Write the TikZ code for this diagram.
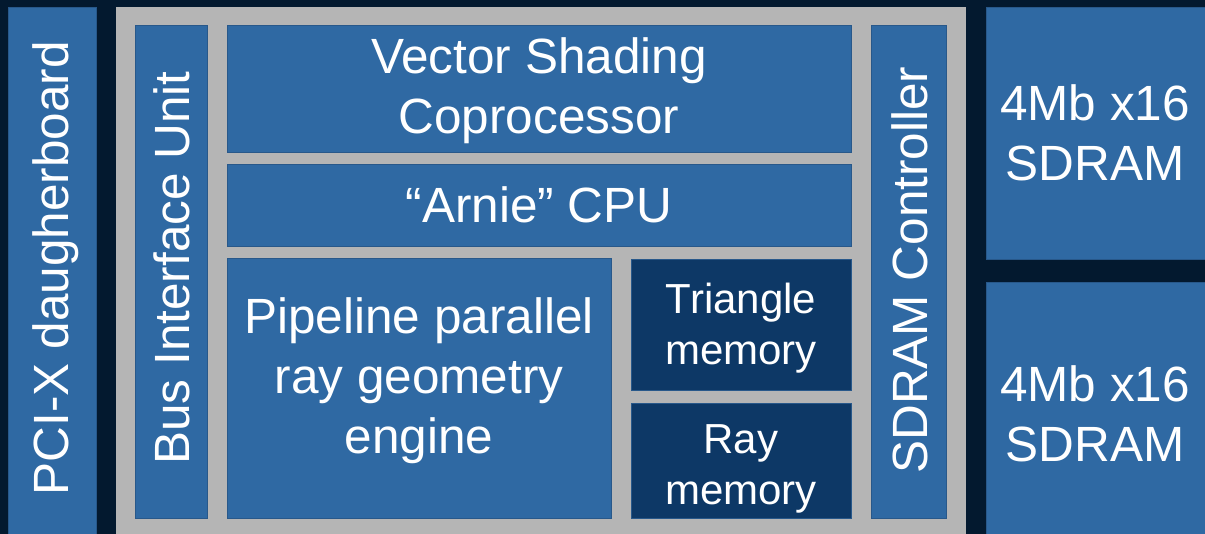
\documentclass[tikz,border=0pt]{standalone}
\usepackage{fontspec}
\setmainfont{Liberation Sans}
\definecolor{bgnavy}{HTML}{03192F}
\definecolor{midblue}{HTML}{2F69A3}
\definecolor{darkblue}{HTML}{0D3866}
\definecolor{edgeblue}{HTML}{28588A}
\definecolor{framegray}{HTML}{B5B5B5}
\begin{document}
\begin{tikzpicture}[x=1pt,y=-1pt,
  blk/.style={fill=midblue, draw=edgeblue, line width=0.8pt, inner sep=0pt},
  memblk/.style={blk, fill=darkblue},
  txt/.style={inner sep=0pt, text=white, align=center, font=\fontsize{49.5}{60}\selectfont},
  memtxt/.style={txt, font=\fontsize{42}{51}\selectfont}]
\fill[bgnavy] (0,0) rectangle (1205,534);
\useasboundingbox (0,0) rectangle (1205,534);
% outer gray frame
\fill[framegray] (116,7) rectangle (966,545);
% blocks
\node[blk, minimum width=88, minimum height=540] (pci) at (52,277) {};
\node[blk, minimum width=72, minimum height=493] (bus) at (171,271.5) {};
\node[blk, minimum width=624, minimum height=127] (vsc) at (539,88.5) {};
\node[blk, minimum width=624, minimum height=82] (cpu) at (539,205) {};
\node[blk, minimum width=384, minimum height=260] (pipe) at (419,388) {};
\node[memblk, minimum width=220, minimum height=131] (tri) at (741,324.5) {};
\node[memblk, minimum width=220, minimum height=115] (ray) at (741,460.5) {};
\node[blk, minimum width=75, minimum height=493] (ctrl) at (908.5,271.5) {};
\node[blk, minimum width=229, minimum height=252] (sd1) at (1100.5,133) {};
\node[blk, minimum width=229, minimum height=263] (sd2) at (1100.5,413.5) {};
% texts
\node[txt, rotate=90] (pci-t) at (56,268) {PCI-X daugherboard};
\node[txt, rotate=90] (bus-t) at (172,268) {Bus Interface Unit};
\node[txt] (vsc-t) at (539,91) {Vector Shading\\Coprocessor};
\node[txt] (cpu-t) at (539,205) {“Arnie” CPU};
\node[txt] (pipe-t) at (419,381) {Pipeline parallel\\ray geometry\\engine};
\node[memtxt] (tri-t) at (741,328.5) {Triangle\\memory};
\node[memtxt] (ray-t) at (741,469) {Ray\\memory};
\node[txt, rotate=90] (ctrl-t) at (910,270) {SDRAM Controller};
\node[txt] (sd1-t) at (1095,133) {4Mb x16\\SDRAM};
\node[txt] (sd2-t) at (1095,413.5) {4Mb x16\\SDRAM};
\end{tikzpicture}
\end{document}
